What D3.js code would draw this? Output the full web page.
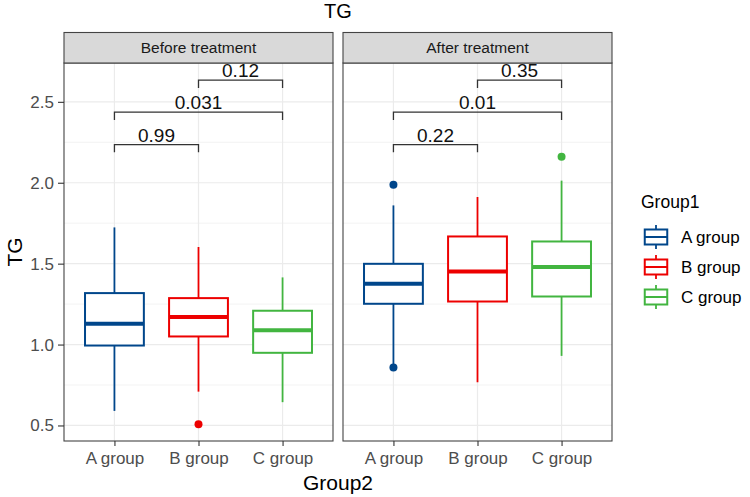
<!DOCTYPE html>
<html>
<head>
<meta charset="utf-8">
<script src="https://cdn.jsdelivr.net/npm/d3@7"></script>
<style>
  body { margin: 0; background: #fff; }
  svg { font-family: "Liberation Sans", Arial, sans-serif; }
</style>
</head>
<body>
<div id="chart"></div>
<script>
// categories and facets
const groups = ["A group", "B group", "C group"];
const facets = ["Before treatment", "After treatment"];
const colors = ["#00468B", "#ED0000", "#42B540"];

// box stats per group: [lower whisker, Q1, median, Q3, upper whisker]
const beforeBoxes = [
  [0.59, 0.994, 1.128, 1.318, 1.724],
  [0.709, 1.05, 1.17, 1.287, 1.603],
  [0.644, 0.949, 1.089, 1.209, 1.415]
];
const afterBoxes = [
  [0.88, 1.252, 1.376, 1.499, 1.86],
  [0.767, 1.266, 1.452, 1.668, 1.912],
  [0.93, 1.297, 1.479, 1.637, 2.013]
];
const beforeOutliers = [[], [0.507], []];
const afterOutliers = [[0.858, 1.988], [], [2.16]];

// comparisons
const bracketPairs = [[0, 1], [0, 2], [1, 2]];
const bracketY = [2.236, 2.436, 2.634];
const beforeP = ["0.99", "0.031", "0.12"];
const afterP = ["0.22", "0.01", "0.35"];

const yTicks = [0.5, 1.0, 1.5, 2.0, 2.5];
const yMinor = [0.75, 1.25, 1.75, 2.25];

const W = 750, H = 497;
const panelTop = 63, panelBottom = 441, stripTop = 32.5;
const panelX = [[64, 333], [343, 612]];

const svg = d3.select("#chart").append("svg")
  .attr("width", W).attr("height", H);

const y = d3.scaleLinear().domain([0.404, 2.74]).range([panelBottom, panelTop]);

const panelData = [
  { boxes: beforeBoxes, outliers: beforeOutliers, p: beforeP },
  { boxes: afterBoxes, outliers: afterOutliers, p: afterP }
];

panelData.forEach((pd, pi) => {
  const [x0, x1] = panelX[pi];
  const x = d3.scalePoint().domain(groups).range([x0, x1]).padding(0.6);
  const bw = x.step() * 0.7;

  // clip for panel
  svg.append("clipPath").attr("id", "clip" + pi)
    .append("rect").attr("x", x0).attr("y", panelTop)
    .attr("width", x1 - x0).attr("height", panelBottom - panelTop);

  const g = svg.append("g").attr("clip-path", `url(#clip${pi})`);

  // grid
  g.selectAll(".minor").data(yMinor).join("line")
    .attr("x1", x0).attr("x2", x1)
    .attr("y1", d => y(d)).attr("y2", d => y(d))
    .attr("stroke", "#f0f0f0").attr("stroke-width", 0.8);
  g.selectAll(".major").data(yTicks).join("line")
    .attr("x1", x0).attr("x2", x1)
    .attr("y1", d => y(d)).attr("y2", d => y(d))
    .attr("stroke", "#ebebeb").attr("stroke-width", 1.2);
  g.selectAll(".vgrid").data(groups).join("line")
    .attr("x1", d => x(d)).attr("x2", d => x(d))
    .attr("y1", panelTop).attr("y2", panelBottom)
    .attr("stroke", "#ebebeb").attr("stroke-width", 1.2);

  // boxes
  pd.boxes.forEach((b, i) => {
    const cx = x(groups[i]);
    const c = colors[i];
    g.append("line").attr("x1", cx).attr("x2", cx)
      .attr("y1", y(b[3])).attr("y2", y(b[4]))
      .attr("stroke", c).attr("stroke-width", 1.8);
    g.append("line").attr("x1", cx).attr("x2", cx)
      .attr("y1", y(b[1])).attr("y2", y(b[0]))
      .attr("stroke", c).attr("stroke-width", 1.8);
    g.append("rect")
      .attr("x", cx - bw / 2).attr("width", bw)
      .attr("y", y(b[3])).attr("height", y(b[1]) - y(b[3]))
      .attr("fill", "#fff").attr("stroke", c).attr("stroke-width", 2);
    g.append("line").attr("x1", cx - bw / 2).attr("x2", cx + bw / 2)
      .attr("y1", y(b[2])).attr("y2", y(b[2]))
      .attr("stroke", c).attr("stroke-width", 4);
    pd.outliers[i].forEach(o => {
      g.append("circle").attr("cx", cx).attr("cy", y(o)).attr("r", 4)
        .attr("fill", c);
    });
  });

  // brackets
  bracketPairs.forEach((pair, k) => {
    const xa = x(groups[pair[0]]), xb = x(groups[pair[1]]);
    const yy = y(bracketY[k]), yt = y(bracketY[k] - 0.048);
    g.append("path")
      .attr("d", `M${xa},${yt}V${yy}H${xb}V${yt}`)
      .attr("fill", "none").attr("stroke", "#333").attr("stroke-width", 1.3);
    g.append("text")
      .attr("x", (xa + xb) / 2).attr("y", yy - 3)
      .attr("text-anchor", "middle")
      .attr("font-size", 19).attr("fill", "#111")
      .text(pd.p[k]);
  });

  // panel border
  svg.append("rect").attr("x", x0).attr("y", panelTop)
    .attr("width", x1 - x0).attr("height", panelBottom - panelTop)
    .attr("fill", "none").attr("stroke", "#444").attr("stroke-width", 1.1);

  // strip
  svg.append("rect").attr("x", x0).attr("y", stripTop)
    .attr("width", x1 - x0).attr("height", panelTop - stripTop)
    .attr("fill", "#d9d9d9").attr("stroke", "#444").attr("stroke-width", 1.1);
  svg.append("text")
    .attr("x", (x0 + x1) / 2).attr("y", (stripTop + panelTop) / 2 + 5.5)
    .attr("text-anchor", "middle").attr("font-size", 15.5).attr("fill", "#1a1a1a")
    .text(facets[pi]);

  // x axis
  const xa = svg.append("g")
    .attr("transform", `translate(0,${panelBottom})`)
    .call(d3.axisBottom(x).tickSize(5).tickPadding(6));
  xa.select(".domain").remove();
  xa.selectAll("line").attr("stroke", "#333").attr("stroke-width", 1.1);
  xa.selectAll("text").attr("font-size", 17).attr("fill", "#4d4d4d")
    .attr("font-family", "Liberation Sans, Arial, sans-serif");
});

// y axis
const ya = svg.append("g")
  .attr("transform", `translate(${panelX[0][0]},0)`)
  .call(d3.axisLeft(y).tickValues(yTicks).tickFormat(d3.format(".1f")).tickSize(6).tickPadding(4));
ya.select(".domain").remove();
ya.selectAll("line").attr("stroke", "#333").attr("stroke-width", 1.1);
ya.selectAll("text").attr("font-size", 17).attr("fill", "#4d4d4d")
  .attr("font-family", "Liberation Sans, Arial, sans-serif");

// titles
svg.append("text").attr("x", (panelX[0][0] + panelX[1][1]) / 2).attr("y", 18)
  .attr("text-anchor", "middle").attr("font-size", 20).attr("fill", "#000").text("TG");
svg.append("text").attr("x", (panelX[0][0] + panelX[1][1]) / 2).attr("y", 490)
  .attr("text-anchor", "middle").attr("font-size", 21).attr("fill", "#000").text("Group2");
svg.append("text")
  .attr("transform", `translate(22,${(panelTop + panelBottom) / 2}) rotate(-90)`)
  .attr("text-anchor", "middle").attr("font-size", 21).attr("fill", "#000").text("TG");

// legend
const leg = svg.append("g").attr("transform", "translate(641,0)");
leg.append("text").attr("x", 0).attr("y", 208).attr("font-size", 17.5)
  .attr("fill", "#000").text("Group1");
const keySize = 30;
groups.forEach((gname, i) => {
  const top = 222 + i * keySize;
  const c = colors[i];
  const k = leg.append("g").attr("transform", `translate(0,${top})`);
  k.append("line").attr("x1", keySize / 2).attr("x2", keySize / 2)
    .attr("y1", keySize * 0.1).attr("y2", keySize * 0.9)
    .attr("stroke", c).attr("stroke-width", 1.8);
  k.append("rect").attr("x", keySize * 0.125).attr("width", keySize * 0.75)
    .attr("y", keySize * 0.25).attr("height", keySize * 0.5)
    .attr("fill", "#fff").attr("stroke", c).attr("stroke-width", 2);
  k.append("line").attr("x1", keySize * 0.125).attr("x2", keySize * 0.875)
    .attr("y1", keySize / 2).attr("y2", keySize / 2)
    .attr("stroke", c).attr("stroke-width", 2);
  leg.append("text").attr("x", 40).attr("y", top + keySize / 2 + 6)
    .attr("font-size", 17).attr("fill", "#000").text(gname);
});
</script>
</body>
</html>
